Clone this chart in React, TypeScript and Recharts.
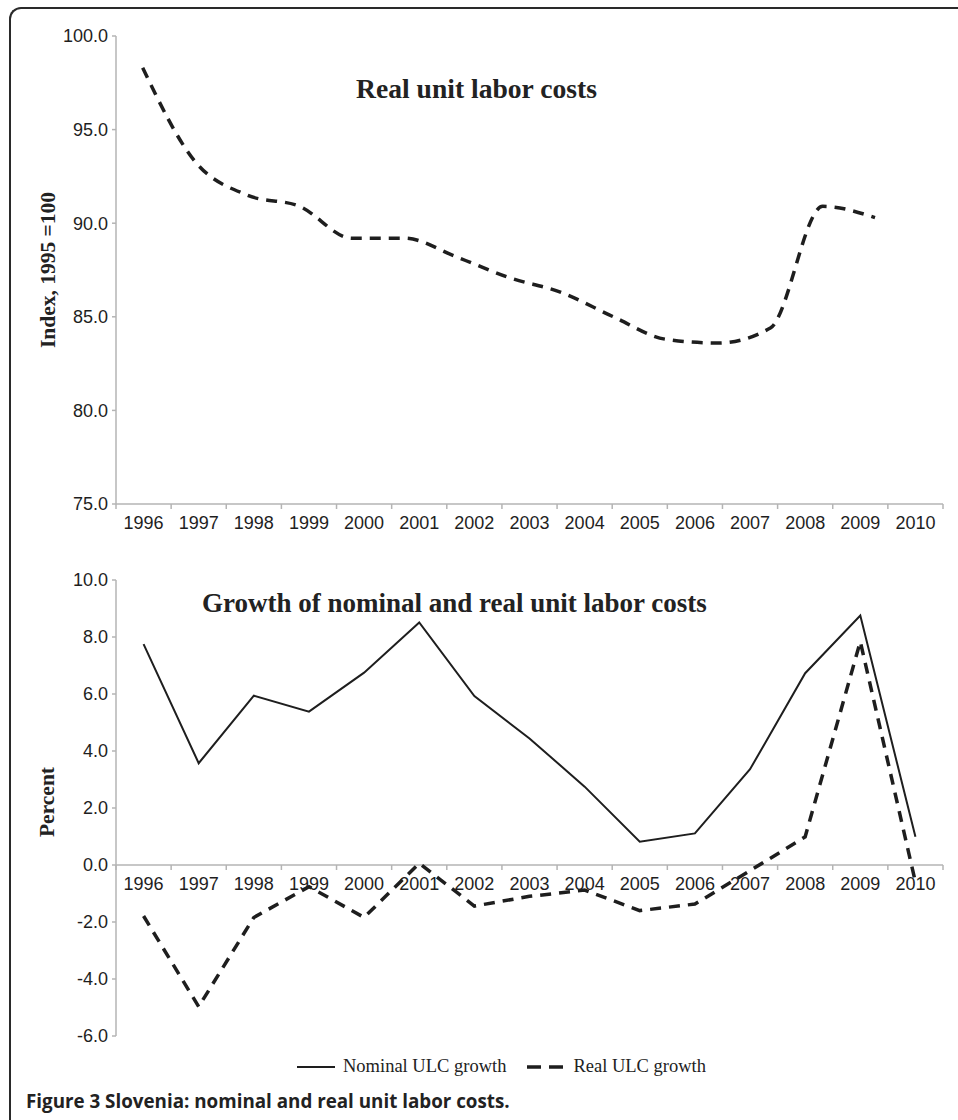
import { Legend, Line, LineChart, ReferenceLine, XAxis, YAxis } from 'recharts'

const YEARS = [1996, 1997, 1998, 1999, 2000, 2001, 2002, 2003, 2004, 2005, 2006, 2007, 2008, 2009, 2010]
const REAL_INDEX = [98.3, 93.3, 91.5, 90.9, 89.2, 89.2, 88.2, 87.1, 86.3, 85.0, 83.8, 83.6, 84.4, 90.9, 90.3]
const NOMINAL_GROWTH = [7.75, 3.57, 5.94, 5.38, 6.75, 8.51, 5.93, 4.44, 2.75, 0.82, 1.11, 3.36, 6.73, 8.75, 0.99]
const REAL_GROWTH = [-1.79, -4.97, -1.84, -0.76, -1.84, 0.06, -1.44, -1.1, -0.88, -1.6, -1.37, -0.2, 0.99, 7.84, -0.6]
const INDEX_TICKS = [75, 80, 85, 90, 95, 100]
const PERCENT_TICKS = [-6, -4, -2, 0, 2, 4, 6, 8, 10]

// the index line in the source was drawn on a slightly narrower plot than its axis
const INDEX_LINE_DOMAIN = [1995.49, 2011.3]

const INK = '#1e1e1e'
const AXIS_GRAY = '#b4b4b4'
const SANS = '"Liberation Sans", Arial, sans-serif'
const SERIF = '"Liberation Serif", "Times New Roman", serif'

const PLOT_LEFT = 116
const PLOT_RIGHT = 943
const BAND = (PLOT_RIGHT - PLOT_LEFT) / YEARS.length
const BOTTOM_PLOT_H = 456
const ZERO_LIFT = (BOTTOM_PLOT_H * (0 - PERCENT_TICKS[0])) / (PERCENT_TICKS[PERCENT_TICKS.length - 1] - PERCENT_TICKS[0])

const indexRows = YEARS.map((year, i) => ({ year, real: REAL_INDEX[i] }))
const growthRows = YEARS.map((year, i) => ({
  year,
  nominal: NOMINAL_GROWTH[i],
  real: REAL_GROWTH[i],
}))

function YearTick(props: any) {
  const { x, y, payload, lift } = props
  const axisY = y - lift
  const half = BAND / 2
  const isLast = payload.value === YEARS[YEARS.length - 1]
  return (
    <g>
      <line x1={x - half} x2={x - half} y1={axisY} y2={axisY + 5} stroke={AXIS_GRAY} strokeWidth={1.5} />
      {isLast && (
        <line x1={x + half} x2={x + half} y1={axisY} y2={axisY + 5} stroke={AXIS_GRAY} strokeWidth={1.5} />
      )}
      <text x={x} y={axisY + 25} textAnchor="middle" fill={INK} fontSize={18} fontFamily={SANS}>
        {payload.value}
      </text>
    </g>
  )
}

function GrowthLegend(props: any) {
  const { payload } = props
  return (
    <div style={{ display: 'flex', alignItems: 'center', fontFamily: SERIF, fontSize: 18.5, color: '#222' }}>
      {(payload || []).map((entry: any, i: number) => (
        <div key={entry.value} style={{ display: 'flex', alignItems: 'center', marginLeft: i === 0 ? 0 : 21 }}>
          <svg width={38} height={20} style={{ marginRight: 8 }}>
            <line
              x1={0}
              x2={38}
              y1={10}
              y2={10}
              stroke={INK}
              strokeWidth={entry.payload?.strokeDasharray ? 3.5 : 2}
              strokeDasharray={entry.payload?.strokeDasharray ? '14 8' : undefined}
            />
          </svg>
          <span>{entry.value}</span>
        </div>
      ))}
    </div>
  )
}

const yTick = { fill: INK, fontSize: 18, fontFamily: SANS }

export default function App() {
  return (
    <div
      style={{
        position: 'absolute',
        left: 0,
        top: 0,
        width: 958,
        height: 1120,
        overflow: 'hidden',
        background: '#fff',
      }}
    >
      <div
        style={{
          position: 'absolute',
          left: 9,
          top: 7,
          width: 1100,
          height: 1300,
          borderTop: '2px solid #2a2a2a',
          borderLeft: '2px solid #2a2a2a',
          borderTopLeftRadius: 12,
        }}
      />

      <div style={{ position: 'absolute', left: 0, top: 0 }}>
        <LineChart width={958} height={545} data={indexRows} margin={{ top: 36, right: 15, bottom: 11, left: 60 }}>
          <XAxis
            xAxisId="years"
            dataKey="year"
            type="number"
            domain={[1995.5, 2010.5]}
            ticks={YEARS}
            height={30}
            tickSize={0}
            tickMargin={0}
            tickLine={false}
            axisLine={{ stroke: AXIS_GRAY, strokeWidth: 1.5 }}
            tick={(p: any) => <YearTick {...p} lift={0} />}
          />
          <XAxis xAxisId="line" dataKey="year" type="number" domain={INDEX_LINE_DOMAIN} height={0} hide />
          <YAxis
            domain={[75, 100]}
            ticks={INDEX_TICKS}
            width={56}
            tickSize={4}
            tickMargin={4}
            tick={yTick}
            tickFormatter={(v: number) => v.toFixed(1)}
            axisLine={{ stroke: AXIS_GRAY, strokeWidth: 1.5 }}
            tickLine={{ stroke: AXIS_GRAY, strokeWidth: 1.5 }}
          />
          <Line
            xAxisId="line"
            dataKey="real"
            type="monotone"
            stroke={INK}
            strokeWidth={3.5}
            strokeDasharray="11 8"
            dot={false}
            isAnimationActive={false}
          />
        </LineChart>
      </div>

      <div style={{ position: 'absolute', left: 0, top: 540 }}>
        <LineChart width={958} height={580} data={growthRows} margin={{ top: 40, right: 15, bottom: 54, left: 60 }}>
          <XAxis
            dataKey="year"
            type="number"
            domain={[1995.5, 2010.5]}
            ticks={YEARS}
            height={30}
            tickSize={0}
            tickMargin={0}
            tickLine={false}
            axisLine={false}
            tick={(p: any) => <YearTick {...p} lift={ZERO_LIFT} />}
          />
          <YAxis
            domain={[-6, 10]}
            ticks={PERCENT_TICKS}
            width={56}
            tickSize={4}
            tickMargin={4}
            tick={yTick}
            tickFormatter={(v: number) => v.toFixed(1)}
            axisLine={{ stroke: AXIS_GRAY, strokeWidth: 1.5 }}
            tickLine={{ stroke: AXIS_GRAY, strokeWidth: 1.5 }}
          />
          <ReferenceLine y={0} stroke={AXIS_GRAY} strokeWidth={1.5} />
          <Line
            dataKey="nominal"
            name="Nominal ULC growth"
            type="linear"
            stroke={INK}
            strokeWidth={2}
            dot={false}
            isAnimationActive={false}
          />
          <Line
            dataKey="real"
            name="Real ULC growth"
            type="linear"
            stroke={INK}
            strokeWidth={3.5}
            strokeDasharray="11 8"
            dot={false}
            isAnimationActive={false}
          />
          <Legend
            verticalAlign="middle"
            align="center"
            content={<GrowthLegend />}
            wrapperStyle={{ left: 297, top: 516, width: 'auto' }}
          />
        </LineChart>
      </div>

      <svg
        width={958}
        height={1120}
        style={{ position: 'absolute', left: 0, top: 0, pointerEvents: 'none' }}
      >
        <text x={356} y={98} fontFamily={SERIF} fontWeight="bold" fontSize={27.6} fill="#222">
          Real unit labor costs
        </text>
        <text x={202} y={612} fontFamily={SERIF} fontWeight="bold" fontSize={27} fill="#222">
          Growth of nominal and real unit labor costs
        </text>
        <text
          transform="translate(48,270) rotate(-90)"
          textAnchor="middle"
          dominantBaseline="central"
          fontFamily={SERIF}
          fontWeight="bold"
          fontSize={21.5}
          fill="#222"
        >
          Index, 1995 =100
        </text>
        <text
          transform="translate(47,802) rotate(-90)"
          textAnchor="middle"
          dominantBaseline="central"
          fontFamily={SERIF}
          fontWeight="bold"
          fontSize={21.5}
          fill="#222"
        >
          Percent
        </text>
        <text x={26} y={1108} fontFamily='"Open Sans", sans-serif' fontWeight="bold" fontSize={18.8} fill="#222">
          Figure 3 Slovenia: nominal and real unit labor costs.
        </text>
      </svg>
    </div>
  )
}
